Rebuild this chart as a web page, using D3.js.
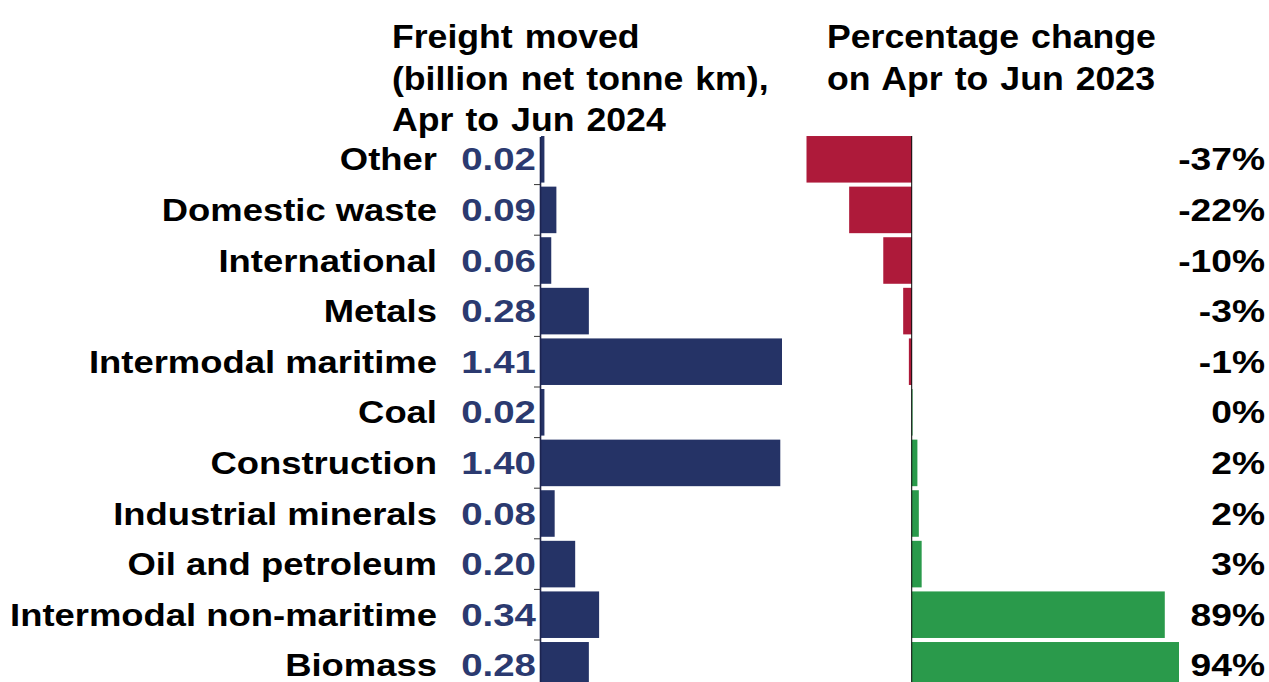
<!DOCTYPE html>
<html>
<head>
<meta charset="utf-8">
<script src="https://cdn.jsdelivr.net/npm/d3@7"></script>
<style>
  html, body { margin: 0; padding: 0; background: #fff; }
  svg { display: block; font-family: "Liberation Sans", Arial, sans-serif; font-weight: bold; }
</style>
</head>
<body>
<svg id="chart" width="1269" height="682"></svg>
<script>
const categories = ["Other", "Domestic waste", "International", "Metals", "Intermodal maritime", "Coal",
  "Construction", "Industrial minerals", "Oil and petroleum", "Intermodal non-maritime", "Biomass"];
const freight = [0.02, 0.09, 0.06, 0.28, 1.41, 0.02, 1.40, 0.08, 0.20, 0.34, 0.28];
const freightLabels = ["0.02", "0.09", "0.06", "0.28", "1.41", "0.02", "1.40", "0.08", "0.20", "0.34", "0.28"];
const pctChange = [-37, -22, -10, -3, -1, 0.3, 2, 2.5, 3.5, 89, 94];
const pctLabels = ["-37%", "-22%", "-10%", "-3%", "-1%", "0%", "2%", "2%", "3%", "89%", "94%"];
const leftTitle = ["Freight moved", "(billion net tonne km),", "Apr to Jun 2024"];
const rightTitle = ["Percentage change", "on Apr to Jun 2023"];

const svg = d3.select("#chart");
const navy = "#253366";
const navyText = "#2b3a70";
const red = "#ae1a3a";
const green = "#2a9a4b";

const y = d3.scaleBand().domain(categories).range([134, 134 + 11 * 50.6]).paddingInner(0.08).paddingOuter(0.04);
const xL = d3.scaleLinear().domain([0, 1.41]).range([541, 782]);
const xR = d3.scaleLinear().domain([-37, 94]).range([806.5, 1179]);

const fs = 31;

// Titles
const tL = svg.append("g");
leftTitle.forEach((t, i) => {
  tL.append("text").attr("transform", `translate(392,${48 + i * 41.5}) scale(1.08,1)`)
    .attr("font-size", 33).attr("fill", "#000").attr("word-spacing", 2).text(t);
});
rightTitle.forEach((t, i) => {
  tL.append("text").attr("transform", `translate(827,${48 + i * 41.5}) scale(1.08,1)`)
    .attr("font-size", 33).attr("fill", "#000").attr("word-spacing", 2).text(t);
});

const data = categories.map((c, i) => ({ c, f: freight[i], fl: freightLabels[i], p: pctChange[i], pl: pctLabels[i] }));

// Left bars
svg.append("g").selectAll("rect").data(data).join("rect")
  .attr("x", xL(0)).attr("y", d => y(d.c))
  .attr("width", d => xL(d.f) - xL(0)).attr("height", y.bandwidth())
  .attr("fill", navy);

// Left axis
svg.append("line").attr("x1", 540.5).attr("x2", 540.5).attr("y1", 137).attr("y2", 682)
  .attr("stroke", "#1c2450").attr("stroke-width", 1.6);
const tickYs = categories.slice(1).map(c => y(c) - y.step() * y.paddingInner() / 2);
svg.append("g").selectAll("line").data(tickYs).join("line")
  .attr("x1", 534).attr("x2", 541).attr("y1", d => d).attr("y2", d => d)
  .attr("stroke", "#333").attr("stroke-width", 1);

// Category labels
svg.append("g").selectAll("text").data(data).join("text")
  .attr("transform", d => `translate(437,${y(d.c) + y.bandwidth() / 2 + 11}) scale(1.175,1)`)
  .attr("text-anchor", "end").attr("font-size", fs).attr("fill", "#000").text(d => d.c);

// Value labels
svg.append("g").selectAll("text").data(data).join("text")
  .attr("transform", d => `translate(536,${y(d.c) + y.bandwidth() / 2 + 11}) scale(1.24,1)`)
  .attr("text-anchor", "end").attr("font-size", fs).attr("fill", navyText).text(d => d.fl);

// Right bars
svg.append("g").selectAll("rect").data(data).join("rect")
  .attr("x", d => Math.min(xR(0), xR(d.p))).attr("y", d => y(d.c))
  .attr("width", d => Math.abs(xR(d.p) - xR(0))).attr("height", y.bandwidth())
  .attr("fill", d => d.p < 0 ? red : green);

svg.append("line").attr("x1", xR(0)).attr("x2", xR(0)).attr("y1", 136).attr("y2", 682)
  .attr("stroke", "#000").attr("stroke-width", 1);

// Percent labels
svg.append("g").selectAll("text").data(data).join("text")
  .attr("transform", d => `translate(1265,${y(d.c) + y.bandwidth() / 2 + 11}) scale(1.2,1)`)
  .attr("text-anchor", "end").attr("font-size", fs).attr("fill", "#000").text(d => d.pl);
</script>
</body>
</html>
